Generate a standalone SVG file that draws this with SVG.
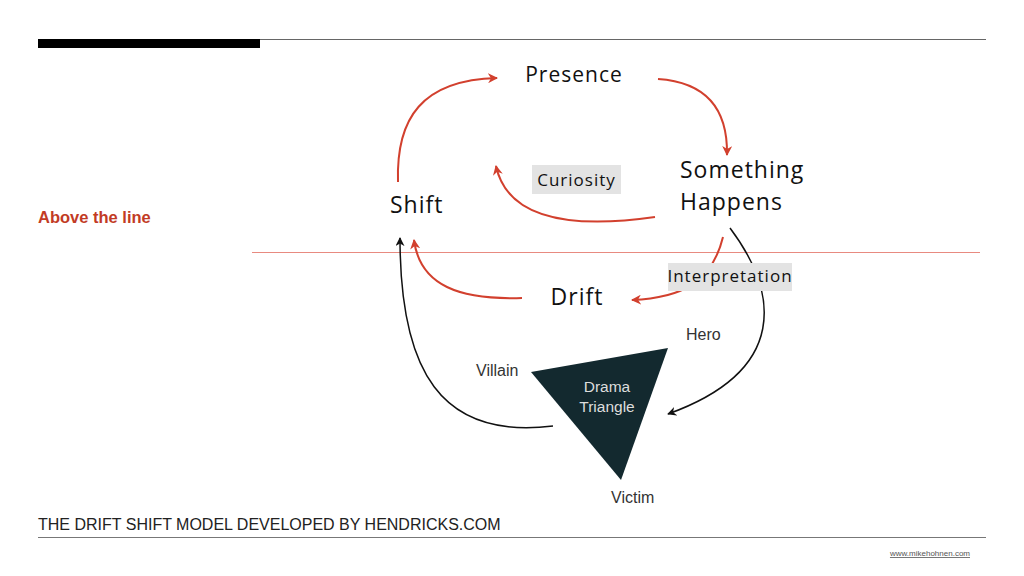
<svg xmlns="http://www.w3.org/2000/svg" width="1024" height="576" viewBox="0 0 1024 576">
<defs>
<style>
.hand{font-family:"Comic Sans MS","Open Sans","DejaVu Sans",sans-serif;fill:#111;letter-spacing:1px;}
.lab{font-family:"Liberation Sans",Arial,sans-serif;font-size:16px;fill:#333;}
.red{fill:none;stroke:#d2402e;stroke-width:2;}
.blk{fill:none;stroke:#111;stroke-width:1.5;}
.box{fill:#e3e3e3;}
</style>
<marker id="ar" viewBox="0 0 10 10" refX="9" refY="5" markerWidth="5" markerHeight="5" orient="auto" markerUnits="strokeWidth"><path d="M0,0 L10,5 L0,10 L3,5 z" fill="#d2402e"/></marker>
<marker id="ab" viewBox="0 0 10 10" refX="9" refY="5" markerWidth="6" markerHeight="6" orient="auto" markerUnits="strokeWidth"><path d="M0,0 L10,5 L0,10 L3,5 z" fill="#111"/></marker>
</defs>
<rect width="1024" height="576" fill="#fff"/>
<g id="frame">
<rect x="38" y="39" width="222" height="9" fill="#000"/>
<line x1="260" y1="39.5" x2="986" y2="39.5" stroke="#666" stroke-width="1"/>
<line x1="38" y1="537.5" x2="986" y2="537.5" stroke="#777" stroke-width="1.2"/>
<line x1="252" y1="252.5" x2="980" y2="252.5" stroke="#e88a80" stroke-width="1"/>
<text x="38" y="223" font-family="Liberation Sans,Arial,sans-serif" font-weight="bold" font-size="16.5" fill="#c23b25">Above the line</text>
<text x="38" y="530" font-family="Liberation Sans,Arial,sans-serif" font-size="16" fill="#222">THE DRIFT SHIFT MODEL DEVELOPED BY HENDRICKS.COM</text>
<text x="970" y="556" text-anchor="end" font-family="Liberation Sans,Arial,sans-serif" font-size="8" fill="#555" text-decoration="underline">www.mikehohnen.com</text>
</g>
<g id="connectors">
<path class="red" d="M398,182 C396,118 422,80 497,78" marker-end="url(#ar)"/>
<path class="red" d="M658,79 C702,82 728,104 727,155" marker-end="url(#ar)"/>
<path class="red" d="M655,217 C578,228 508,222 496,166" marker-end="url(#ar)"/>
<path class="red" d="M723,237 C712,282 682,298 632,300" marker-end="url(#ar)"/>
<path class="red" d="M522,298 C460,300 420,286 414,240" marker-end="url(#ar)"/>
<path class="blk" d="M730,228 C778,292 790,370 668,414" marker-end="url(#ab)"/>
<path class="blk" d="M553,426 C440,440 400,370 400,238" marker-end="url(#ab)"/>
</g>
<g id="presence"><text class="hand" x="574" y="82" font-size="21" text-anchor="middle">Presence</text></g>
<g id="something-happens"><text class="hand" x="680" y="178" font-size="23">Something</text><text class="hand" x="680" y="210" font-size="23">Happens</text></g>
<g id="shift"><text class="hand" x="390" y="213" font-size="23" letter-spacing="3">Shift</text></g>
<g id="curiosity"><rect class="box" x="532" y="165" width="89" height="29"/><text class="hand" x="576.5" y="186" font-size="17" text-anchor="middle">Curiosity</text></g>
<g id="interpretation"><rect class="box" x="668" y="263" width="124" height="28"/><text class="hand" x="730" y="282" font-size="17" text-anchor="middle">Interpretation</text></g>
<g id="drift"><text class="hand" x="577" y="305" font-size="23" letter-spacing="3" text-anchor="middle">Drift</text></g>
<g id="drama-triangle">
<polygon points="531,372 668,348 621,480" fill="#13292f"/>
<text x="607" y="392" text-anchor="middle" font-family="Liberation Sans,Arial,sans-serif" font-size="15.5" fill="#ddd">Drama</text>
<text x="607" y="412" text-anchor="middle" font-family="Liberation Sans,Arial,sans-serif" font-size="15.5" fill="#ddd">Triangle</text>
</g>
<g id="hero"><text class="lab" x="686" y="340">Hero</text></g>
<g id="villain"><text class="lab" x="476" y="376">Villain</text></g>
<g id="victim"><text class="lab" x="611" y="503">Victim</text></g>
</svg>
